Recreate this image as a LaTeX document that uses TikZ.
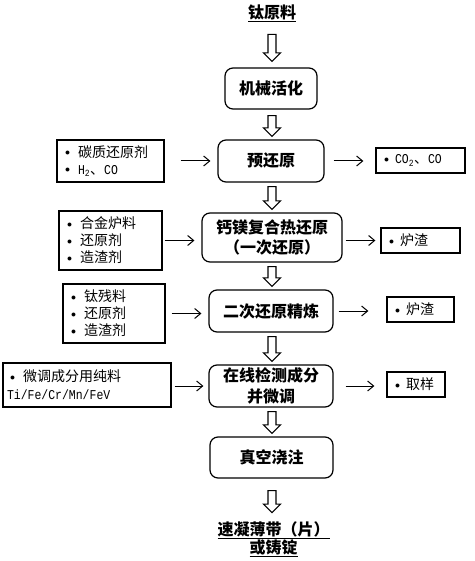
\documentclass[tikz,border=0pt]{standalone}
\usepackage{fontspec}
\setmainfont{Noto Sans CJK SC}
\newfontfamily\lmono[FakeStretch=0.85]{Liberation Mono}
\usetikzlibrary{arrows.meta,calc}
\newcommand\hdown[2]{%
  \draw[harrow] let \p1=(#1), \p2=(#2) in
    (\x1-4pt,\y1) -- (\x1+4pt,\y1) -- (\x1+4pt,\y2+8.5pt) -- (\x1+8.5pt,\y2+8.5pt)
    -- (\x1,\y2) -- (\x1-8.5pt,\y2+8.5pt) -- (\x1-4pt,\y2+8.5pt) -- cycle;}
\newcommand\mydot{\makebox[5pt]{\raisebox{1.5pt}{$\scriptstyle\bullet$}}}
\newcommand\bul{\mydot\hspace{8pt}}
\newcommand\lat[1]{{\lmono\fontsize{13.5}{17}\selectfont #1}}
\begin{document}
\begin{tikzpicture}[x=1pt,y=-1pt,
  mainbox/.style={draw, line width=1.2pt, rounded corners=8pt,
    font=\fontsize{16}{20.5}\selectfont\bfseries, align=center, inner sep=0pt},
  sidebox/.style={draw, line width=1.3pt, font=\fontsize{14}{17}\selectfont,
    align=left, inner xsep=8pt, inner ysep=0pt},
  outbox/.style={draw, line width=1.3pt, font=\fontsize{14}{17}\selectfont,
    align=left, inner xsep=8pt, inner ysep=0pt, minimum height=25pt},
  arr/.style={line width=1pt, -{Straight Barb[length=6pt,width=10pt]}},
  harrow/.style={line width=1.1pt, fill=white, line join=miter},
  endtext/.style={font=\fontsize{16}{18}\selectfont\bfseries, align=center, inner sep=0pt},
]
\useasboundingbox (0,0) rectangle (474,561);

% title
\node[endtext] (title) at (272,13) {\underline{钛原料}};

% main column
\node[mainbox, minimum width=92pt, minimum height=41pt] (m1) at (271,88.5) {机械活化};
\node[mainbox, minimum width=106pt, minimum height=42pt] (m2) at (271,161) {预还原};
\node[mainbox, minimum width=140pt, minimum height=49pt] (m3) at (272,237.5) {钙镁复合热还原\\（一次还原）};
\node[mainbox, minimum width=124pt, minimum height=42pt] (m4) at (271,311) {二次还原精炼};
\node[mainbox, minimum width=124pt, minimum height=42pt] (m5) at (271,386) {在线检测成分\\并微调};
\node[mainbox, minimum width=123pt, minimum height=41pt] (m6) at (271.5,457.5) {真空浇注};
\node[endtext] (final) at (273.5,539) {\underline{速凝薄带（片）}\\\underline{或铸锭}};

% left input boxes
\node[sidebox, text width=91pt, minimum height=42pt] (l2) at (110.5,161)
  {\bul 碳质还原剂\\\bul \lat{H\textsubscript{2}}、\lat{CO}};
\node[sidebox, text width=87pt, minimum height=59pt] (l3) at (110.5,240.5)
  {\bul 合金炉料\\\bul 还原剂\\\bul 造渣剂};
\node[sidebox, text width=86pt, minimum height=59pt] (l4) at (114,313.5)
  {\bul 钛残料\\\bul 还原剂\\\bul 造渣剂};
\node[sidebox, inner xsep=4pt, text width=160pt, minimum height=44pt, font=\fontsize{14}{18}\selectfont] (l5) at (87,385)
  {\hspace{3pt}\bul 微调成分用纯料\\\lat{Ti/Fe/Cr/Mn/FeV}};

% right output boxes
\node[outbox, text width=73pt] (r2) at (420.5,160.5)
  {\mydot\hspace{6pt}\lat{CO\textsubscript{2}}、\lat{CO}};
\node[outbox, text width=63pt] (r3) at (420.5,240.5) {\mydot\hspace{6pt}炉渣};
\node[outbox, text width=51pt] (r4) at (420.5,309.5) {\mydot\hspace{6pt}炉渣};
\node[outbox, text width=42pt] (r5) at (416,384.5) {\mydot\hspace{6pt}取样};

% horizontal arrows
\draw[arr, shorten <=16pt, shorten >=7pt] (l2.east) -- (m2.west);
\draw[arr, shorten <=9pt, shorten >=12pt] (m2.east) -- (m2.east -| r2.west);
\draw[arr, shorten <=2pt, shorten >=7pt] (l3.east) -- (l3.east -| m3.west);
\draw[arr, shorten <=3pt, shorten >=5pt] (m3.east |- r3.west) -- (r3.west);
\draw[arr, shorten <=6pt, shorten >=7pt] (l4.east) -- (l4.east -| m4.west);
\draw[arr, shorten <=5pt, shorten >=18pt] (m4.east) -- (m4.east -| r4.west);
\draw[arr, shorten <=3pt, shorten >=5pt] (m5.west -| l5.east) -- (m5.west);
\draw[arr, shorten <=12pt, shorten >=12pt] (m5.east) -- (m5.east -| r5.west);

% hollow down arrows
\hdown{$(m1.north)+(1,-33)$}{$(m1.north)+(1,-6)$}
\hdown{$(m1.south)+(1,6)$}{$(m2.north)+(1,-3)$}
\hdown{$(m2.south)+(1,4)$}{$(m3.north)+(0,-3)$}
\hdown{$(m3.south)+(0,4)$}{$(m4.north)+(1,-3)$}
\hdown{$(m4.south)+(1,4)$}{$(m5.north)+(1,-3)$}
\hdown{$(m5.south)+(1,4)$}{$(m6.north)+(0.5,-3)$}
\hdown{$(m6.south)+(0.5,12)$}{$(m6.south)+(0.5,34)$}
\end{tikzpicture}
\end{document}
